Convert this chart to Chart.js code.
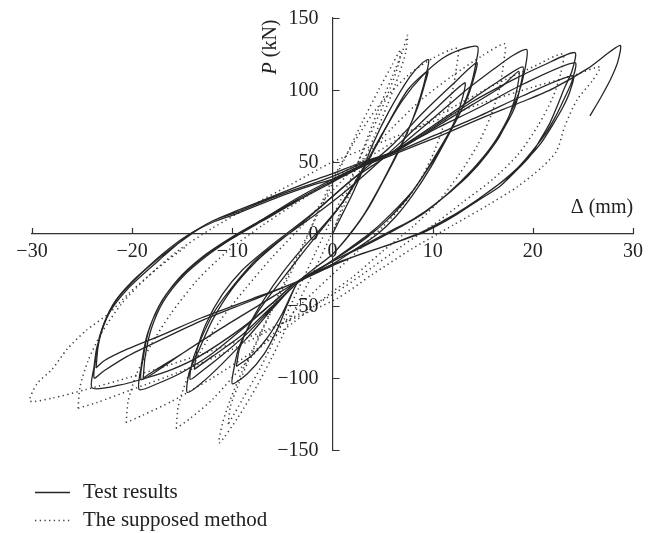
<!DOCTYPE html>
<html>
<head>
<meta charset="utf-8">
<script src="https://cdn.jsdelivr.net/npm/chart.js@4/dist/chart.umd.min.js"></script>
<style>
  html, body { margin: 0; padding: 0; background: #ffffff; }
  #wrap { width: 656px; height: 533px; position: relative; }
  canvas { display: block; }
</style>
</head>
<body>
<div id="wrap"><canvas id="c" width="656" height="533"></canvas></div>
<script>
// ---------- axis ticks / labels ----------
const xTickValues = [-30, -20, -10, 0, 10, 20, 30];
const yTickValues = [-150, -100, -50, 0, 50, 100, 150];
const xTitle = "\u0394 (mm)";
const yTitleItalic = "P";
const yTitleRest = " (kN)";
const legendLabels = ["Test results", "The supposed method"];

// ---------- Test results: [displacement (mm), load (kN)] per loading level ----------
const testLevel1 = [
  [0,0],[1,14],[2,28],[3,44],[4,62],[5.7,86],[7.7,109],[9,119],[9.6,121],
  [9.4,112],[8.8,96],[7.8,76],[6.5,56],[5,36],[3.5,17],[2,2],[0,-14],[-2,-25],[-3.5,-34],[-4.5,-49],[-5.5,-66],[-6.8,-83],[-8.5,-97],[-10,-104],
  [-9.8,-92],[-9.3,-78],[-8,-60],[-6.3,-43],[-4.3,-25],[-2.5,-9],[-1,4],[0.5,17],[2,32],[3.5,50],[5.5,76],[7.5,100],[9.5,113],
  [9.2,104],[8.5,88],[7.4,70],[6,50],[4.5,30],[3,12],[1.5,-2],[0,-14],[-2,-25],[-3.5,-34],[-5,-55],[-6.5,-72],[-8,-84],[-9.6,-92]
];
const testLevel2 = [
  [-9.6,-92],[-9.3,-80],[-8.3,-63],[-6.8,-45],[-5,-27],[-3,-10],[-1,5],[1,22],[3,45],[5,70],[7,93],[9,110],[11,122],[13,128.5],[14.5,130],
  [14.3,118],[13.8,103],[12.8,85],[11.3,65],[9.7,45],[8,27],[6.3,12],[4.5,0],[2,-12],[0,-21],[-3.5,-34],[-6,-52],[-8.5,-72],[-11,-90],[-13,-103],[-14.5,-110],
  [-14.3,-96],[-13.3,-80],[-12,-60],[-10,-38],[-7.6,-19],[-5.3,-5],[-3,8],[0,26],[3,44],[6,62],[9,84],[12,104],[14.4,119],
  [14.1,108],[13.3,92],[12,75],[10.5,57],[9,40],[7.5,25],[5.5,10],[3.5,-2],[1,-14],[-1.5,-25],[-3.5,-34],[-6,-51],[-8.5,-69],[-11,-84],[-13,-95],[-14.2,-101],
  [-14,-89],[-13.2,-74],[-11.8,-54],[-9.8,-35],[-7.5,-17],[-5,-3],[-2,12],[1,28],[4,46],[7,65],[10,85],[13.2,105],
  [13,95],[12.3,80],[11,62],[9.5,45],[8,30],[6,15],[4,2],[1.5,-11],[-1,-23],[-3.5,-34],[-6,-50],[-9,-70],[-12,-85],[-13.8,-94]
];
const testLevel3 = [
  [-13.8,-94],[-13.5,-80],[-12.6,-62],[-11,-42],[-9,-25],[-6.5,-10],[-3.5,6],[-1,20],[2,38],[6,57],[10,80],[13,98],[16,114],[18,124],[19.4,128],
  [19.2,114],[18.6,98],[17.5,80],[16,62],[14,45],[11.5,28],[9,14],[6,2],[3,-9],[0,-19],[-3.5,-33],[-6,-48],[-9,-66],[-12,-83],[-15,-96],[-17.5,-104],[-19.3,-108],
  [-19.1,-92],[-18.5,-70],[-17.3,-50],[-15.5,-32],[-13,-16],[-10,-2],[-7,10],[-3.5,24],[0,37],[3,48],[6,57],[10,75],[14,94],[17,108],[19,116],
  [18.8,104],[18.2,88],[17,72],[15.5,56],[13.5,40],[11,25],[8.5,12],[5.5,1],[2.5,-10],[0,-19],[-3.5,-33],[-7,-48],[-11,-65],[-15,-83],[-17.5,-95],[-19.1,-101],
  [-18.9,-86],[-18.3,-66],[-17,-46],[-15,-29],[-12.5,-14],[-10,-3],[-7,9],[-3.5,23],[0,36],[3,47],[6,56],[10,73],[14,90],[17,103],[18.6,113],
  [18.4,100],[17.8,85],[16.7,68],[15,52],[13,37],[10.5,22],[8,10],[5,-1],[2,-12],[0,-19],[-3.5,-33],[-7,-48],[-11,-65],[-15,-83],[-17.8,-95],[-18.9,-100]
];
const testLevel4 = [
  [-18.9,-100],[-18.7,-85],[-18.1,-66],[-16.9,-47],[-15,-30],[-12.5,-15],[-10,-3],[-7,10],[-3.5,25],[0,38],[3,48],[6,57],[10,74],[14,92],[18,107],[21,117],[24.2,126],
  [23.9,113],[23.2,102],[22.5,90],[21.7,77],[20.7,65],[19.7,54],[18.2,43],[16.7,33],[14.7,24],[12.5,14],[10.5,6],[8.7,0],[5,-9],[2,-16],[0,-21],[-3.5,-33],[-6,-48],[-9,-65],[-13.3,-85],[-16,-94],[-18.6,-100],[-21.3,-105],[-24,-107],
  [-23.8,-92],[-23.5,-78],[-22.3,-55],[-20.3,-37],[-17.3,-18],[-14.6,-2],[-12,9],[-9.6,16],[-5.3,28],[-2,37],[0,42],[3,50],[6,57],[10,72],[14.7,88],[19,104],[24.2,119],
  [23.9,106],[23.2,95],[22.3,82],[21.3,70],[20,58],[18.5,46],[16.5,34],[14.5,24],[12.3,14],[10.3,6],[8.5,0],[5,-9],[2,-16],[0,-21],[-3.5,-33],[-8,-46],[-13,-60],[-17,-73],[-20.5,-85],[-22.8,-95],[-23.8,-100],
  [-23.6,-85],[-23.2,-70],[-22,-50],[-20,-33],[-17,-15],[-14.5,-2],[-12,9],[-9.6,15],[-5.3,27],[-2,35],[0,40],[3,49],[6,56],[10,68],[14.7,82],[19,96],[24,110],
  [23.7,99],[23,88],[22,76],[20.8,63],[19.4,52],[17.6,40],[15.5,29],[13.3,18],[11,9],[8.8,1],[5,-9],[2,-16],[0,-22],[-3.5,-33],[-8,-45],[-13,-58],[-17,-70],[-20.5,-80],[-22.8,-88],[-23.6,-93]
];
const testLevel5 = [
  [-23.6,-93],[-23.4,-78],[-22.8,-62],[-21.5,-45],[-19.5,-30],[-17,-14],[-14.5,-1],[-12,8],[-9.6,14],[-5.3,26],[-2,34],[0,38],[3,47],[6,55],[10,66],[14.7,80],[19,92],[22,101],[25.5,115],[28.7,131],
  [28.5,120],[27.8,108],[26.8,95],[25.7,82]
];

// ---------- The supposed method ----------
const methodLevel1 = [
  [0,0],[1.5,30],[3,58],[4.5,85],[6,110],[7,127],[7.5,138],
  [7.3,126],[6.6,110],[5.5,90],[4.2,68],[2.8,45],[1.2,20],[-0.3,-3],[-2,-28],[-3.6,-50],[-5.5,-78],[-7.5,-105],[-9.5,-128],[-11.3,-145],
  [-11,-132],[-10.2,-115],[-9,-95],[-7.4,-72],[-5.8,-48],[-4,-22],[-2.3,2],[-0.5,28],[1.2,52],[3,78],[4.6,100],[6,118],[6.8,128],
  [6.6,118],[5.8,102],[4.6,82],[3.2,60],[1.6,35],[0,12],[-1.7,-13],[-3.4,-38],[-5.3,-66],[-7.2,-93],[-9,-115],[-10.4,-132]
];
const methodLevel2 = [
  [-10.4,-132],[-10.2,-120],[-9.3,-103],[-8,-82],[-6.4,-58],[-4.6,-33],[-3,-10],[-1.5,15],[0,38],[2,62],[4.5,88],[7.5,110],[10,122],[12.5,129],
  [12.4,117],[12,100],[11.3,80],[10.2,58],[8.8,38],[7,20],[5,5],[2.5,-12],[0,-28],[-3,-48],[-6,-70],[-9,-92],[-12,-115],[-14.2,-128],[-15.6,-135]
];
const methodLevel3 = [
  [-15.6,-135],[-15.4,-120],[-14.6,-102],[-13.2,-82],[-11.2,-60],[-8.7,-38],[-6,-16],[-3,6],[0,30],[3,52],[6,74],[9,94],[12,110],[15,124],[17.2,132],
  [17.1,120],[16.7,102],[15.8,82],[14.5,62],[12.7,42],[10.5,22],[8,5],[5,-12],[2,-30],[0,-40],[-4,-62],[-8,-82],[-12,-100],[-16,-116],[-19,-126],[-20.6,-131]
];
const methodLevel4 = [
  [-20.6,-131],[-20.4,-116],[-19.6,-98],[-18.2,-78],[-16.2,-56],[-13.5,-32],[-10.5,-12],[-7,6],[-3.5,22],[0,38],[4,55],[8,72],[12,88],[16,103],[20,116],[23,125],
  [22.8,112],[22,95],[20.5,75],[18.5,55],[16,38],[13,22],[10,6],[7,-8],[3,-28],[0,-42],[-5,-62],[-10,-80],[-15,-95],[-20,-108],[-23.5,-117],[-25.4,-121]
];
const methodLevel5 = [
  [-25.4,-121],[-25.2,-106],[-24.4,-88],[-23,-68],[-21,-48],[-18.5,-30],[-15.5,-12],[-12,4],[-8,20],[-4,35],[0,50],[5,64],[10,78],[15,91],[20,102],[24,110],[26.7,116],
  [26,107],[24.4,93],[23.2,75],[22.4,58],[21,47],[18.5,33],[15.5,20],[12,6],[8,-10],[4,-28],[0.4,-45],[-5,-62],[-10,-76],[-15,-88],[-20,-99],[-24.6,-108],[-28,-114],[-30.2,-116],
  [-29.5,-104],[-28,-94],[-26.5,-80],[-24.6,-67],[-22.3,-55],[-20.3,-41],[-17.5,-24],[-14.5,-8]
];

const testSeries = [testLevel1, testLevel2, testLevel3, testLevel4, testLevel5];
const methodSeries = [methodLevel1, methodLevel2, methodLevel3, methodLevel4, methodLevel5];

const SOLID = '#262626';
const DOT = '#3c3c3c';
const FONT = '"Liberation Serif", "Times New Roman", serif';
const minus = v => (v < 0 ? '\u2212' + Math.abs(v) : String(v));

const datasets = [];
testSeries.forEach(arr => datasets.push({
  label: legendLabels[0],
  data: arr.map(p => ({x: p[0], y: p[1]})),
  showLine: true, borderColor: SOLID, borderWidth: 1.3, pointRadius: 0,
  tension: 0.25, clip: false, fill: false
}));
methodSeries.forEach(arr => datasets.push({
  label: legendLabels[1],
  data: arr.map(p => ({x: p[0], y: p[1]})),
  showLine: true, borderColor: DOT, borderWidth: 1.5, borderDash: [1.3, 3.4], pointRadius: 0,
  tension: 0.25, clip: false, fill: false
}));

const deco = {
  id: 'deco',
  afterDraw(chart) {
    const {ctx, scales: {x, y}} = chart;
    const x0 = x.getPixelForValue(0), y0 = y.getPixelForValue(0);
    ctx.save();
    ctx.strokeStyle = '#333'; ctx.lineWidth = 1.2; ctx.setLineDash([]);
    ctx.beginPath();
    xTickValues.forEach(v => { if (v === 0) return; const px = Math.round(x.getPixelForValue(v)) + 0.5; ctx.moveTo(px, y0); ctx.lineTo(px, y0 - 6); });
    yTickValues.forEach(v => { if (v === 0) return; const py = Math.round(y.getPixelForValue(v)) + 0.5; ctx.moveTo(x0, py); ctx.lineTo(x0 + 7, py); });
    ctx.stroke();

    // y tick labels (left of the axis, like the reference)
    ctx.fillStyle = '#222';
    ctx.font = '20px ' + FONT;
    ctx.textAlign = 'right';
    ctx.textBaseline = 'middle';
    yTickValues.forEach(v => { ctx.fillText(minus(v), x0 - 14, y.getPixelForValue(v) + 1); });

    // axis titles
    ctx.textAlign = 'center';
    ctx.fillText(xTitle, 602, 208);

    ctx.save();
    ctx.translate(271, 47);
    ctx.rotate(-Math.PI / 2);
    ctx.font = 'italic 20px ' + FONT;
    const w1 = ctx.measureText(yTitleItalic).width;
    ctx.font = '20px ' + FONT;
    const w2 = ctx.measureText(yTitleRest).width;
    const start = -(w1 + w2) / 2;
    ctx.textAlign = 'left';
    ctx.font = 'italic 20px ' + FONT;
    ctx.fillText(yTitleItalic, start, 0);
    ctx.font = '20px ' + FONT;
    ctx.fillText(yTitleRest, start + w1, 0);
    ctx.restore();

    // legend
    ctx.font = '21px ' + FONT;
    ctx.textAlign = 'left';
    ctx.strokeStyle = SOLID; ctx.lineWidth = 1.3;
    ctx.beginPath(); ctx.moveTo(35, 492.5); ctx.lineTo(70, 492.5); ctx.stroke();
    ctx.fillText(legendLabels[0], 83, 492);
    ctx.strokeStyle = DOT; ctx.lineWidth = 1.5; ctx.setLineDash([1.3, 3.4]);
    ctx.beginPath(); ctx.moveTo(35, 520.5); ctx.lineTo(70, 520.5); ctx.stroke();
    ctx.setLineDash([]);
    ctx.fillText(legendLabels[1], 83, 520);
    ctx.restore();
  }
};

new Chart(document.getElementById('c'), {
  type: 'scatter',
  data: {datasets},
  options: {
    responsive: false,
    animation: false,
    layout: {padding: {left: 32, right: 23, top: 18, bottom: 83}},
    plugins: {legend: {display: false}, tooltip: {enabled: false}},
    scales: {
      x: {
        type: 'linear', min: -30, max: 30,
        position: {y: 0},
        grid: {display: false},
        border: {display: true, color: '#333', width: 1.2},
        afterBuildTicks: s => { s.ticks = xTickValues.map(v => ({value: v})); },
        ticks: {color: '#222', font: {family: FONT, size: 20}, padding: -2, maxRotation: 0, callback: v => minus(v)}
      },
      y: {
        type: 'linear', min: -150, max: 150,
        position: {x: 0},
        grid: {display: false},
        border: {display: true, color: '#333', width: 1.2},
        afterBuildTicks: s => { s.ticks = yTickValues.map(v => ({value: v})); },
        ticks: {display: false}
      }
    }
  },
  plugins: [deco]
});
</script>
</body>
</html>
